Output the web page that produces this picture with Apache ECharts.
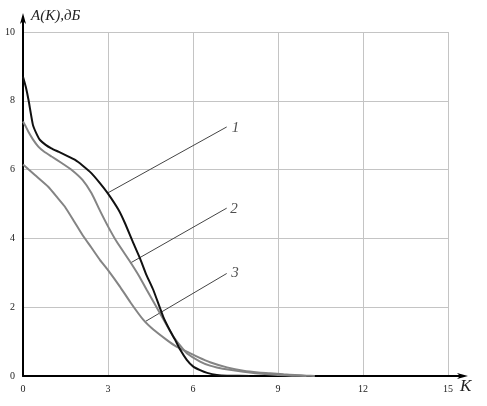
<!DOCTYPE html>
<html>
<head>
<meta charset="utf-8">
<script src="https://cdn.jsdelivr.net/npm/echarts@6/dist/echarts.min.js"></script>
<style>
  html, body { margin: 0; padding: 0; background: #fff; }
  #chart { width: 487px; height: 406px; }
</style>
</head>
<body>
<div id="chart"></div>
<script>
// кривые A(K), дБ
const curve1 = [
  [0, 8.7], [0.1, 8.4], [0.2, 8.0], [0.35, 7.3], [0.5, 7.0], [0.6, 6.86], [0.8, 6.72],
  [1.0, 6.62], [1.25, 6.52], [1.5, 6.42], [1.84, 6.28], [2.1, 6.12], [2.42, 5.89],
  [2.7, 5.62], [3.0, 5.3], [3.37, 4.83], [3.6, 4.44], [3.85, 3.95], [4.13, 3.42],
  [4.35, 2.95], [4.6, 2.5], [4.95, 1.72], [5.2, 1.3], [5.37, 1.05], [5.55, 0.76],
  [5.78, 0.47], [6.0, 0.28], [6.25, 0.17], [6.5, 0.09], [6.84, 0.03], [7.2, 0.01], [8, 0]
];
const curve2 = [
  [0, 7.4], [0.1, 7.25], [0.19, 7.1], [0.35, 6.88], [0.54, 6.67], [0.75, 6.52],
  [1.01, 6.38], [1.35, 6.2], [1.72, 5.99], [2.1, 5.7], [2.42, 5.31], [2.72, 4.8],
  [3.0, 4.35], [3.31, 3.9], [3.78, 3.32], [4.1, 2.9], [4.37, 2.5], [4.84, 1.82],
  [5.31, 1.14], [5.55, 0.88], [5.78, 0.66], [6.25, 0.42], [6.6, 0.3], [6.84, 0.25],
  [7.3, 0.18], [7.78, 0.12], [8.3, 0.07], [9, 0.03], [9.5, 0.01], [10, 0]
];
const curve3 = [
  [0, 6.15], [0.2, 6.0], [0.42, 5.84], [0.89, 5.5], [1.2, 5.2], [1.48, 4.92],
  [1.8, 4.5], [2.1, 4.1], [2.4, 3.75], [2.72, 3.37], [3.0, 3.08], [3.42, 2.6],
  [3.8, 2.13], [4.25, 1.63], [4.6, 1.35], [5.07, 1.05], [5.4, 0.86], [5.78, 0.71],
  [6.2, 0.54], [6.6, 0.4], [7.2, 0.25], [7.78, 0.15], [8.3, 0.1], [8.72, 0.08],
  [9.2, 0.05], [9.6, 0.03], [10, 0.01], [10.3, 0]
];

// выноски и номера кривых
const pointerStart = [[3.01, 5.33], [3.78, 3.28], [4.31, 1.58]];
const pointerEnd = [[7.19, 7.24], [7.19, 4.88], [7.19, 2.98]];
const curveLabels = ['1', '2', '3'];
const labelPos = [[7.5, 7.2], [7.45, 4.85], [7.48, 2.98]];

const xTicks = [0, 15, 3];   // min, max, interval
const yTicks = [0, 10, 2];

const chart = echarts.init(document.getElementById('chart'));

const serif = '"Liberation Serif", "DejaVu Serif", serif';

const curveSeries = (data, color, z) => ({
  type: 'line',
  data: data,
  symbol: 'none',
  smooth: 0.15,
  lineStyle: { color: color, width: 2 },
  z: z
});

const pointerSeries = pointerStart.map((p, i) => ({
  type: 'line',
  data: [p, pointerEnd[i]],
  symbol: 'none',
  lineStyle: { color: '#444', width: 1 },
  z: 1
}));

chart.setOption({
  animation: false,
  grid: { left: 23, right: 39, top: 32, bottom: 30 },
  xAxis: {
    type: 'value',
    min: xTicks[0], max: xTicks[1], interval: xTicks[2],
    name: 'K',
    nameLocation: 'end',
    nameGap: 12,
    nameTextStyle: {
      fontFamily: serif, fontStyle: 'italic', fontSize: 17, color: '#222',
      verticalAlign: 'top', padding: [2, 0, 0, 0]
    },
    axisLine: { lineStyle: { color: '#000', width: 2 } },
    axisTick: { show: false },
    axisLabel: { fontFamily: serif, fontSize: 10, color: '#222', margin: 8 },
    splitLine: { lineStyle: { color: '#c4c4c4', width: 1 } }
  },
  yAxis: {
    type: 'value',
    min: yTicks[0], max: yTicks[1], interval: yTicks[2],
    name: 'A(K),дБ',
    nameLocation: 'end',
    nameGap: 8,
    nameTextStyle: {
      fontFamily: serif, fontStyle: 'italic', fontSize: 15, color: '#222',
      align: 'left', padding: [0, 0, 0, 8]
    },
    axisLine: { show: true, lineStyle: { color: '#000', width: 2 } },
    axisTick: { show: false },
    axisLabel: { fontFamily: serif, fontSize: 10, color: '#222', margin: 8 },
    splitLine: { lineStyle: { color: '#c4c4c4', width: 1 } }
  },
  series: [
    ...pointerSeries,
    curveSeries(curve3, '#848484', 2),
    curveSeries(curve2, '#848484', 3),
    curveSeries(curve1, '#111', 4),
    {
      type: 'scatter',
      data: labelPos.map((p, i) => ({ value: p, name: curveLabels[i] })),
      symbolSize: 0,
      label: {
        show: true,
        position: 'inside',
        formatter: '{b}',
        fontFamily: serif,
        fontStyle: 'italic',
        fontSize: 15,
        color: '#222'
      },
      z: 5
    }
  ]
});

// продолжение осей со стрелками
const o = chart.convertToPixel({ gridIndex: 0 }, [xTicks[0], yTicks[0]]);
const xe = chart.convertToPixel({ gridIndex: 0 }, [xTicks[1], yTicks[0]]);
const ye = chart.convertToPixel({ gridIndex: 0 }, [xTicks[0], yTicks[1]]);
const xTip = xe[0] + 20;
const yTip = ye[1] - 19;
chart.setOption({
  graphic: [
    { type: 'line', shape: { x1: xe[0], y1: o[1], x2: xTip - 4, y2: o[1] }, style: { stroke: '#000', lineWidth: 2 } },
    { type: 'polygon', shape: { points: [[xTip, o[1]], [xTip - 11, o[1] - 3], [xTip - 8, o[1]], [xTip - 11, o[1] + 3]] }, style: { fill: '#000' } },
    { type: 'line', shape: { x1: o[0], y1: ye[1], x2: o[0], y2: yTip + 4 }, style: { stroke: '#000', lineWidth: 2 } },
    { type: 'polygon', shape: { points: [[o[0], yTip], [o[0] - 3, yTip + 11], [o[0], yTip + 8], [o[0] + 3, yTip + 11]] }, style: { fill: '#000' } }
  ]
});
</script>
</body>
</html>
